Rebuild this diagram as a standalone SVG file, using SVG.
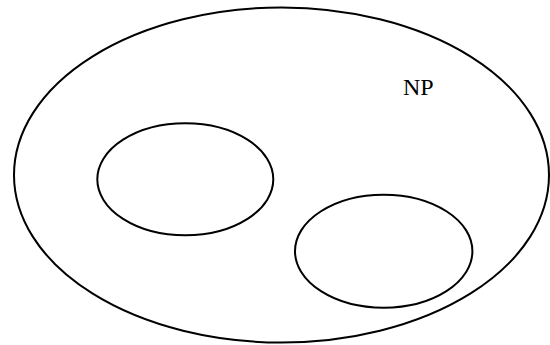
<svg xmlns="http://www.w3.org/2000/svg" width="550" height="345" viewBox="0 0 550 345">
<style>
.set{fill:none;stroke:#000;stroke-width:2}
.lbl{font-family:"Liberation Serif","Times New Roman",serif;font-size:24px;fill:#000}
</style>
<rect width="550" height="345" fill="#fff"/>
<g id="np">
<ellipse class="set" cx="281.5" cy="175" rx="267.5" ry="167.5"/>
<text class="lbl" x="403" y="95">NP</text>
</g>
<g id="subset1">
<ellipse class="set" cx="185.3" cy="179.3" rx="88" ry="56"/>
</g>
<g id="subset2">
<ellipse class="set" cx="383.7" cy="251.2" rx="88.7" ry="56.5"/>
</g>
<g id="connectors"></g>
</svg>
